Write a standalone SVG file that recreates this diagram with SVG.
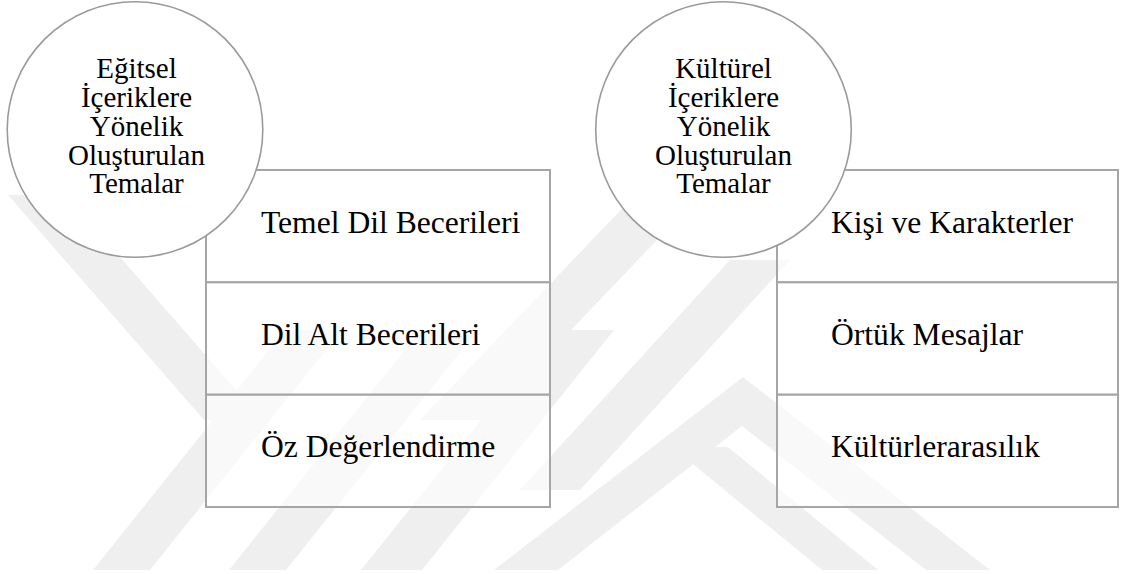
<svg xmlns="http://www.w3.org/2000/svg" width="1122" height="574" viewBox="0 0 1122 574">
  <style>
    .wm { fill: #efefef; }
    .cell { fill: #ffffff; fill-opacity: 0.6; stroke: #a6a6a6; stroke-width: 2; }
    .circ { fill: #ffffff; stroke: #9a9a9a; stroke-width: 1.6; }
    text { font-family: 'Liberation Serif', 'Times New Roman', serif; fill: #000000; }
    .ct { font-size: 29px; text-anchor: middle; }
    .bt { font-size: 31.6px; }
  </style>
  <rect width="1122" height="574" fill="#ffffff"/>
  <g id="watermark">
    <polygon class="wm" points="8,195 66,195 262,420 204,420"/>
    <polygon class="wm" points="93,570 150,570 342,330 285,330"/>
    <polygon class="wm" points="229,570 286,570 478,330 421,330"/>
    <polygon class="wm" points="361,570 422,570 614,330 553,330"/>
    <polygon class="wm" points="494,570 743,377 990,570 926,570 742,426 558,570"/>
    <polygon class="wm" points="672,447 728,447 878,570 822,570"/>
    <polygon class="wm" points="520,490 580,490 790,260 730,260"/>
    <polygon class="wm" points="420,420 485,420 700,195 635,195"/>
  </g>
  <g id="connectors"></g>
  <g id="box-egitsel">
    <rect class="cell" x="206" y="170" width="344" height="112.3"/>
    <rect class="cell" x="206" y="282.3" width="344" height="112.4"/>
    <rect class="cell" x="206" y="394.7" width="344" height="112.3"/>
  </g>
  <g id="item-temel-dil"><text class="bt" x="261" y="232.7">Temel Dil Becerileri</text></g>
  <g id="item-dil-alt"><text class="bt" x="261" y="345">Dil Alt Becerileri</text></g>
  <g id="item-oz"><text class="bt" x="261" y="457.3">Öz Değerlendirme</text></g>
  <g id="box-kulturel">
    <rect class="cell" x="777" y="170" width="341" height="112.3"/>
    <rect class="cell" x="777" y="282.3" width="341" height="112.4"/>
    <rect class="cell" x="777" y="394.7" width="341" height="112.3"/>
  </g>
  <g id="item-kisi"><text class="bt" x="831" y="232.7">Kişi ve Karakterler</text></g>
  <g id="item-ortuk"><text class="bt" x="831" y="345">Örtük Mesajlar</text></g>
  <g id="item-kultur"><text class="bt" x="831" y="457.3">Kültürlerarasılık</text></g>
  <g id="circle-egitsel">
    <circle class="circ" cx="135" cy="129.5" r="127.8"/>
    <text class="ct" x="136.5" y="78.3">Eğitsel</text>
    <text class="ct" x="136.5" y="107">İçeriklere</text>
    <text class="ct" x="136.5" y="135.8">Yönelik</text>
    <text class="ct" x="136.5" y="164.5">Oluşturulan</text>
    <text class="ct" x="136.5" y="193.3">Temalar</text>
  </g>
  <g id="circle-kulturel">
    <circle class="circ" cx="723.5" cy="129.5" r="127.8"/>
    <text class="ct" x="723.5" y="78.3">Kültürel</text>
    <text class="ct" x="723.5" y="107">İçeriklere</text>
    <text class="ct" x="723.5" y="135.8">Yönelik</text>
    <text class="ct" x="723.5" y="164.5">Oluşturulan</text>
    <text class="ct" x="723.5" y="193.3">Temalar</text>
  </g>
</svg>
